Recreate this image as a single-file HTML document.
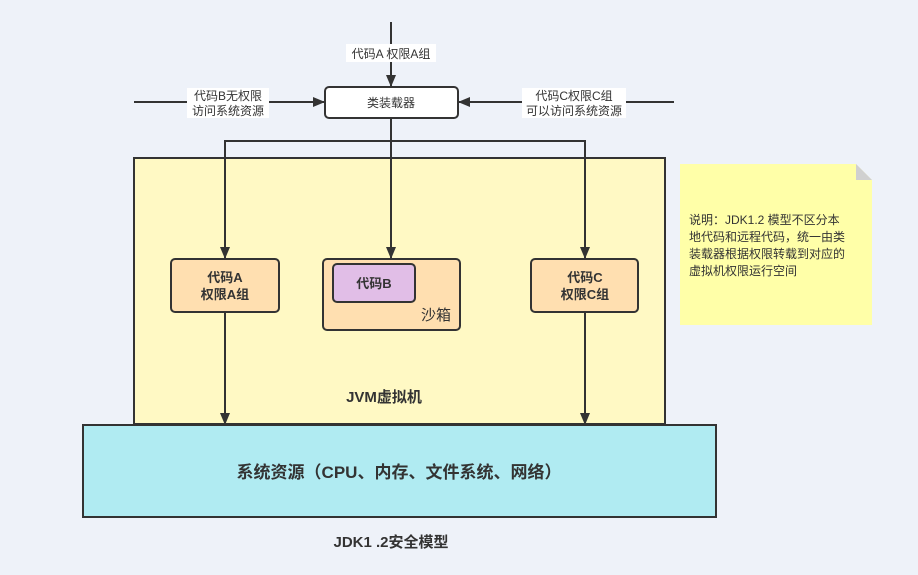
<!DOCTYPE html>
<html><head><meta charset="utf-8"><style>
html,body{margin:0;padding:0;background:#eef2f9;}
svg{display:block;font-family:"Liberation Sans","Noto Sans CJK SC",sans-serif;}
</style></head><body>
<svg width="918" height="575" viewBox="0 0 918 575" xmlns="http://www.w3.org/2000/svg">
<defs><marker id="a" markerWidth="12" markerHeight="12" refX="11" refY="6" orient="auto" markerUnits="userSpaceOnUse"><path d="M0,1 L12,6 L0,11 Z" fill="#333"/></marker></defs>
<rect x="0" y="0" width="918" height="575" fill="#eef2f9"/>
<rect x="134" y="158" width="531" height="266" fill="#fff9c4" stroke="#333" stroke-width="2"/>
<text x="384" y="402" font-size="15" font-weight="bold" fill="#333" text-anchor="middle">JVM虚拟机</text>
<rect x="83" y="425" width="633" height="92" fill="#b0ebf2" stroke="#333" stroke-width="2"/>
<text x="399" y="478" font-size="17" font-weight="bold" fill="#333" text-anchor="middle">系统资源（CPU、内存、文件系统、网络）</text>
<text x="391" y="547" font-size="15" font-weight="bold" fill="#333" text-anchor="middle">JDK1 .2安全模型</text>
<line x1="391" y1="22" x2="391" y2="86" stroke="#333" stroke-width="2" marker-end="url(#a)"/>
<rect x="346" y="44" width="90" height="18" fill="#fff"/>
<text x="391" y="58" font-size="12" fill="#333" text-anchor="middle">代码A 权限A组</text>
<line x1="134" y1="102" x2="324" y2="102" stroke="#333" stroke-width="2" marker-end="url(#a)"/>
<rect x="187" y="88" width="82" height="30" fill="#fff"/>
<text x="228" y="100" font-size="12" fill="#333" text-anchor="middle">代码B无权限</text>
<text x="228" y="115" font-size="12" fill="#333" text-anchor="middle">访问系统资源</text>
<line x1="674" y1="102" x2="459" y2="102" stroke="#333" stroke-width="2" marker-end="url(#a)"/>
<rect x="522" y="88" width="104" height="30" fill="#fff"/>
<text x="574" y="100" font-size="12" fill="#333" text-anchor="middle">代码C权限C组</text>
<text x="574" y="115" font-size="12" fill="#333" text-anchor="middle">可以访问系统资源</text>
<rect x="325" y="87" width="133" height="31" rx="4" fill="#fff" stroke="#333" stroke-width="2"/>
<text x="391" y="107" font-size="12" fill="#333" text-anchor="middle">类装载器</text>
<polyline points="391,118 391,258" fill="none" stroke="#333" stroke-width="2" marker-end="url(#a)"/>
<polyline points="391,141 225,141 225,258" fill="none" stroke="#333" stroke-width="2" marker-end="url(#a)"/>
<polyline points="391,141 585,141 585,258" fill="none" stroke="#333" stroke-width="2" marker-end="url(#a)"/>
<rect x="171" y="259" width="108" height="53" rx="4" fill="#ffdfb0" stroke="#333" stroke-width="2"/>
<text x="225" y="282" font-size="13" font-weight="bold" fill="#333" text-anchor="middle">代码A</text>
<text x="225" y="299" font-size="13" font-weight="bold" fill="#333" text-anchor="middle">权限A组</text>
<rect x="323" y="259" width="137" height="71" rx="4" fill="#ffdfb0" stroke="#333" stroke-width="2"/>
<rect x="333" y="264" width="82" height="38" rx="4" fill="#e1bee7" stroke="#333" stroke-width="2"/>
<text x="374" y="288" font-size="13" font-weight="bold" fill="#333" text-anchor="middle">代码B</text>
<text x="436" y="320" font-size="15" fill="#333" text-anchor="middle">沙箱</text>
<rect x="531" y="259" width="107" height="53" rx="4" fill="#ffdfb0" stroke="#333" stroke-width="2"/>
<text x="585" y="282" font-size="13" font-weight="bold" fill="#333" text-anchor="middle">代码C</text>
<text x="585" y="299" font-size="13" font-weight="bold" fill="#333" text-anchor="middle">权限C组</text>
<line x1="225" y1="312" x2="225" y2="424" stroke="#333" stroke-width="2" marker-end="url(#a)"/>
<line x1="585" y1="312" x2="585" y2="424" stroke="#333" stroke-width="2" marker-end="url(#a)"/>
<path d="M680,164 L856,164 L872,180 L872,325 L680,325 Z" fill="#ffffa8"/>
<path d="M856,164 L872,180 L856,180 Z" fill="#d0d0d0"/>
<g font-size="12" fill="#333">
<text x="689" y="224">说明：JDK1.2 模型不区分本</text>
<text x="689" y="241">地代码和远程代码，统一由类</text>
<text x="689" y="258">装载器根据权限转载到对应的</text>
<text x="689" y="275">虚拟机权限运行空间</text>
</g>
</svg>
</body></html>
